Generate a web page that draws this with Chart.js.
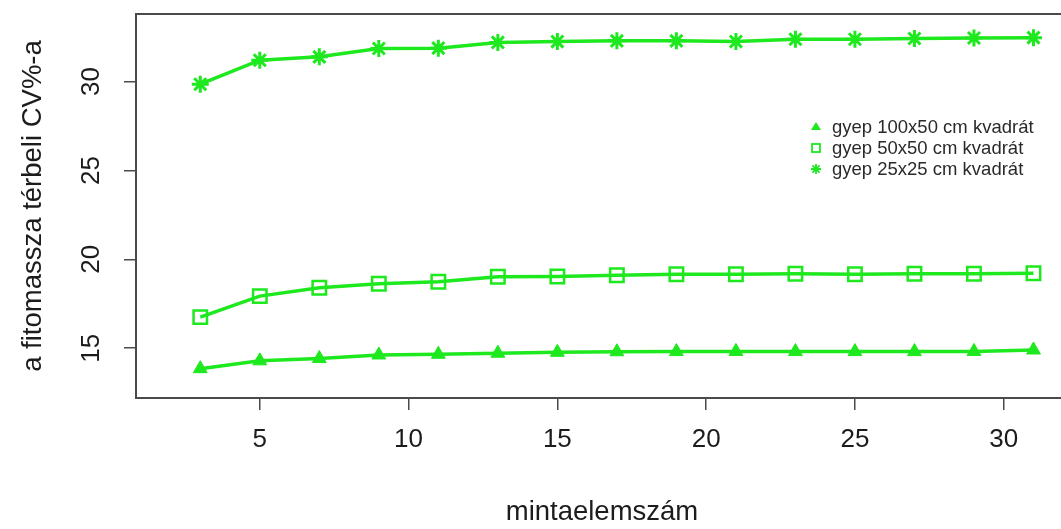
<!DOCTYPE html>
<html>
<head>
<meta charset="utf-8">
<title>mintaelemszám</title>
<script src="https://cdn.jsdelivr.net/npm/chart.js@4.4.1/dist/chart.umd.min.js"></script>
<style>
  html, body { margin: 0; padding: 0; background: #fff; }
  #wrap { width: 1061px; height: 529px; overflow: hidden; }
  canvas { display: block; }
</style>
</head>
<body>
<div id="wrap"><canvas id="chart" width="1080" height="529"></canvas></div>
<script>
// values
const sampleSizes = [3, 5, 7, 9, 11, 13, 15, 17, 19, 21, 23, 25, 27, 29, 31];
const cv100x50 = [13.85, 14.29, 14.42, 14.62, 14.66, 14.72, 14.77, 14.80, 14.81, 14.82, 14.81, 14.81, 14.81, 14.82, 14.90];
const cv50x50 = [16.75, 17.93, 18.40, 18.63, 18.74, 19.02, 19.03, 19.10, 19.16, 19.16, 19.19, 19.16, 19.19, 19.19, 19.22];
const cv25x25 = [29.85, 31.20, 31.39, 31.86, 31.88, 32.20, 32.25, 32.29, 32.29, 32.25, 32.38, 32.38, 32.42, 32.45, 32.47];
const seriesLabels = ['gyep 100x50 cm kvadrát', 'gyep 50x50 cm kvadrát', 'gyep 25x25 cm kvadrát'];
const xTicks = [5, 10, 15, 20, 25, 30];
const yTicks = [15, 20, 25, 30];

const GREEN = '#1ee81e';
const INK = '#1c1c1c';
const FRAME = '#4a4a4a';
const FONT = '"Liberation Sans", Arial, Helvetica, sans-serif';

function toPoints(values) {
  return sampleSizes.map((x, i) => ({ x, y: values[i] }));
}

function series(label, values, style, radius, width, filled) {
  return {
    label,
    data: toPoints(values),
    borderColor: GREEN,
    borderWidth: 3.5,
    tension: 0,
    pointStyle: style,
    pointRadius: radius,
    pointHoverRadius: radius,
    pointBorderColor: GREEN,
    pointBorderWidth: width,
    pointBackgroundColor: filled ? GREEN : 'rgba(0,0,0,0)'
  };
}

// frame, rotated y labels and the small legend inside the plot
const extras = {
  id: 'extras',
  beforeDatasetsDraw(chart) {
    const { ctx, chartArea: a } = chart;
    ctx.save();
    ctx.strokeStyle = FRAME;
    ctx.lineWidth = 2;
    ctx.strokeRect(a.left, a.top, a.right - a.left, a.bottom - a.top);
    ctx.restore();
  },
  afterDraw(chart) {
    const { ctx } = chart;
    const y = chart.scales.y;
    ctx.save();
    ctx.fillStyle = INK;
    ctx.font = '26px ' + FONT;
    ctx.textAlign = 'center';
    ctx.textBaseline = 'middle';
    yTicks.forEach(v => {
      ctx.save();
      ctx.translate(92, y.getPixelForValue(v));
      ctx.rotate(-Math.PI / 2);
      ctx.fillText(String(v), 0, 0);
      ctx.restore();
    });

    const lx = 816, tx = 832, rows = [127, 148, 169];
    ctx.font = '18.5px ' + FONT;
    ctx.textAlign = 'left';
    ctx.fillStyle = '#2a2a2a';
    seriesLabels.forEach((label, i) => ctx.fillText(label, tx, rows[i] + 1));

    ctx.fillStyle = GREEN;
    ctx.strokeStyle = GREEN;
    // triangle
    ctx.beginPath();
    ctx.moveTo(lx, rows[0] - 5);
    ctx.lineTo(lx + 5, rows[0] + 3);
    ctx.lineTo(lx - 5, rows[0] + 3);
    ctx.closePath();
    ctx.fill();
    // square
    ctx.lineWidth = 1.8;
    ctx.strokeRect(lx - 4, rows[1] - 4, 8, 8);
    // asterisk
    ctx.beginPath();
    for (let k = 0; k < 4; k++) {
      const t = k * Math.PI / 4;
      ctx.moveTo(lx - 5 * Math.cos(t), rows[2] - 5 * Math.sin(t));
      ctx.lineTo(lx + 5 * Math.cos(t), rows[2] + 5 * Math.sin(t));
    }
    ctx.stroke();
    ctx.restore();
  }
};

new Chart(document.getElementById('chart'), {
  type: 'line',
  data: {
    datasets: [
      series(seriesLabels[0], cv100x50, 'triangle', 8, 1, true),
      series(seriesLabels[1], cv50x50, 'rect', 9.5, 2.5, false),
      series(seriesLabels[2], cv25x25, 'star', 8.5, 3, false)
    ]
  },
  options: {
    responsive: false,
    animation: false,
    devicePixelRatio: 1,
    layout: { padding: { top: 14, right: 6, bottom: 0, left: 0 } },
    plugins: { legend: { display: false }, tooltip: { enabled: false } },
    scales: {
      x: {
        type: 'linear',
        min: 0.84,
        max: 32.16,
        afterBuildTicks: s => { s.ticks = xTicks.map(v => ({ value: v })); },
        afterFit: s => { s.height = 131; },
        grid: { drawOnChartArea: false, drawTicks: true, tickLength: 12, color: FRAME, lineWidth: 1.5 },
        border: { display: false },
        ticks: { color: INK, font: { family: FONT, size: 26 }, padding: 14, maxRotation: 0 },
        title: { display: true, text: 'mintaelemszám', color: INK, font: { family: FONT, size: 27.5 }, padding: { top: 0, bottom: 0.5 } }
      },
      y: {
        type: 'linear',
        min: 12.2,
        max: 33.8,
        afterBuildTicks: s => { s.ticks = yTicks.map(v => ({ value: v })); },
        afterFit: s => { s.width = 136; },
        grid: { drawOnChartArea: false, drawTicks: true, tickLength: 12, color: FRAME, lineWidth: 1.5 },
        border: { display: false },
        ticks: { display: false },
        title: { display: true, text: 'a fitomassza térbeli CV%-a', color: INK, font: { family: FONT, size: 27.5 }, padding: { top: 16.5, bottom: 0 } }
      }
    }
  },
  plugins: [extras]
});
</script>
</body>
</html>
